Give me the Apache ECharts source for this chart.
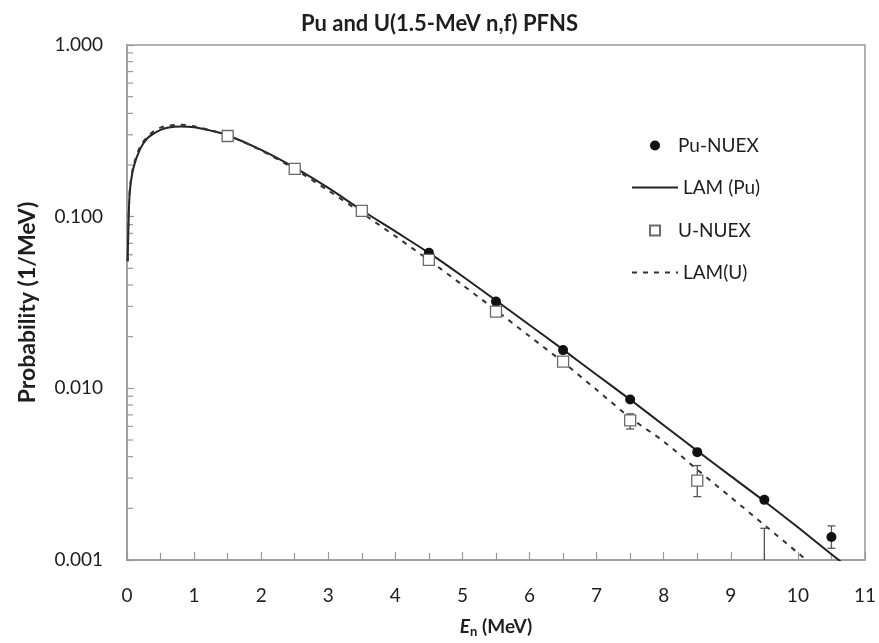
<!DOCTYPE html>
<html>
<head>
<meta charset="utf-8">
<script src="https://cdn.jsdelivr.net/npm/echarts@6/dist/echarts.min.js"></script>
<style>html,body{margin:0;padding:0;background:#fff;}#c{width:879px;height:643px;}</style>
</head>
<body>
<div id="c"></div>
<script>
// ---- data ----
const curveE = [0.01, 0.03, 0.05, 0.1, 0.2, 0.3, 0.4, 0.5, 0.6, 0.8, 1.0, 1.25, 1.5, 2.0, 2.5, 3.0, 3.5, 4.0, 4.5, 5.0, 5.5, 6.0, 6.5, 7.0, 7.5, 8.0, 8.5, 9.0, 9.5, 10.0, 10.5, 11.0];
const lamPu = [0.055, 0.115, 0.15, 0.195, 0.25, 0.285, 0.305, 0.32, 0.33, 0.335, 0.332, 0.317, 0.298, 0.245, 0.193, 0.147, 0.109, 0.082, 0.0615, 0.045, 0.0325, 0.0234, 0.0168, 0.012, 0.0086, 0.0061, 0.00432, 0.00308, 0.0022, 0.00155, 0.00108, 0.00076];
const lamU = [0.055, 0.118, 0.155, 0.2, 0.258, 0.29, 0.315, 0.33, 0.338, 0.343, 0.336, 0.318, 0.298, 0.243, 0.189, 0.142, 0.105, 0.077, 0.0558, 0.04, 0.0285, 0.0201, 0.0142, 0.0098, 0.00675, 0.0049, 0.00336, 0.00232, 0.0016, 0.0011, 0.00075, 0.00052];

const puE = [1.5, 2.5, 3.5, 4.5, 5.5, 6.5, 7.5, 8.5, 9.5, 10.5];
const puNuex = [0.295, 0.19, 0.109, 0.0617, 0.032, 0.0167, 0.0086, 0.00425, 0.00224, 0.00136];
const puErrLow = [null, null, null, null, null, null, null, null, null, 0.00117];
const puErrHigh = [null, null, null, null, null, null, null, null, null, 0.00158];

const uE = [1.5, 2.5, 3.5, 4.5, 5.5, 6.5, 7.5, 8.5, 9.5];
const uNuex = [0.295, 0.19, 0.108, 0.056, 0.028, 0.0143, 0.0065, 0.0029, 0.0009];
const uErrLow = [null, null, null, null, null, null, 0.0058, 0.00234, 0.0005];
const uErrHigh = [null, null, null, null, null, null, 0.0071, 0.00355, 0.00153];

const xTicks = [0, 1, 2, 3, 4, 5, 6, 7, 8, 9, 10, 11];
const yTickLabels = ['0.001', '0.010', '0.100', '1.000'];
const yMinorTicks = [0.002, 0.003, 0.004, 0.005, 0.006, 0.007, 0.008, 0.009,
                     0.02, 0.03, 0.04, 0.05, 0.06, 0.07, 0.08, 0.09,
                     0.2, 0.3, 0.4, 0.5, 0.6, 0.7, 0.8, 0.9];

const FONT = 'Lato';
const TXT = '#1e1e1e';
const AX = '#9a9a9a';

function pairs(xs, ys) { return xs.map((x, i) => [x, ys[i]]); }
function errData(xs, lo, hi) {
  const out = [];
  xs.forEach((x, i) => { if (lo[i] != null) out.push([x, lo[i], hi[i]]); });
  return out;
}
function errRender(params, api) {
  const cs = params.coordSys;
  const x = api.value(0), lo = api.value(1), hi = api.value(2);
  const pTop = api.coord([x, hi]);
  const pBot = api.coord([x, lo]);
  const yMin = cs.y, yMax = cs.y + cs.height;
  const topY = Math.max(yMin, Math.min(yMax, pTop[1]));
  const botY = Math.max(yMin, Math.min(yMax, pBot[1]));
  const st = { stroke: '#555', lineWidth: 1.3 };
  const children = [{ type: 'line', shape: { x1: pTop[0], y1: topY, x2: pTop[0], y2: botY }, style: st }];
  if (pTop[1] >= yMin && pTop[1] <= yMax) children.push({ type: 'line', shape: { x1: pTop[0] - 4, y1: topY, x2: pTop[0] + 4, y2: topY }, style: st });
  if (pBot[1] >= yMin && pBot[1] <= yMax) children.push({ type: 'line', shape: { x1: pBot[0] - 4, y1: botY, x2: pBot[0] + 4, y2: botY }, style: st });
  return { type: 'group', children };
}

const chart = echarts.init(document.getElementById('c'), null, { renderer: 'canvas' });
chart.setOption({
  animation: false,
  backgroundColor: '#fff',
  title: {
    text: 'Pu and U(1.5-MeV n,f) PFNS',
    left: 'center', top: 8,
    textStyle: { fontFamily: FONT, fontSize: 22, fontWeight: 'bold', color: TXT }
  },
  grid: { left: 127, right: 11, top: 45, bottom: 83, show: true, borderColor: AX, borderWidth: 1.5, backgroundColor: 'transparent' },
  legend: [
    {
      data: ['Pu-NUEX', 'U-NUEX'], orient: 'vertical', left: 644, top: 131,
      itemWidth: 10, itemHeight: 10, itemGap: 66,
      formatter: n => '{g|}' + n,
      textStyle: { fontFamily: FONT, fontSize: 19, color: TXT, rich: { g: { width: 13 } } },
      selectedMode: false
    },
    {
      data: ['LAM (Pu)', 'LAM(U)'], orient: 'vertical', left: 626, top: 173,
      itemWidth: 46, itemHeight: 10, itemGap: 66,
      itemStyle: { opacity: 0 },
      textStyle: { fontFamily: FONT, fontSize: 19, color: TXT },
      selectedMode: false
    }
  ],
  xAxis: {
    type: 'value', min: 0, max: 11, interval: 1,
    axisLine: { lineStyle: { color: AX, width: 1.5 } },
    axisTick: { inside: true, length: 8, lineStyle: { color: AX, width: 1.2 } },
    minorTick: { show: true, splitNumber: 2, length: 7, lineStyle: { color: AX, width: 1.2 } },
    splitLine: { show: false },
    axisLabel: { margin: 26, fontFamily: FONT, fontSize: 19, color: TXT,
      formatter: v => xTicks.indexOf(v) >= 0 ? String(v) : '' },
    name: '{e|E}{n|n} (MeV)', nameLocation: 'middle', nameGap: 56,
    nameTextStyle: { fontFamily: FONT, fontSize: 19, fontWeight: 'bold', color: TXT,
      rich: { e: { fontFamily: FONT, fontSize: 19, fontWeight: 'bold', fontStyle: 'italic', color: TXT },
              n: { fontFamily: FONT, fontSize: 13, fontWeight: 'bold', color: TXT, verticalAlign: 'bottom', padding: [9, 0, 0, 0] } } }
  },
  yAxis: {
    type: 'log', logBase: 10, min: 0.001, max: 1,
    axisLine: { lineStyle: { color: AX, width: 1.5 } },
    axisTick: { inside: true, length: 7, lineStyle: { color: AX, width: 1.2 } },
    splitLine: { show: false },
    axisLabel: { margin: 24, fontFamily: FONT, fontSize: 19, color: TXT,
      formatter: v => { const s = v.toFixed(3); return yTickLabels.indexOf(s) >= 0 ? s : ''; } },
    name: 'Probability (1/MeV)', nameLocation: 'middle', nameGap: 88,
    nameTextStyle: { fontFamily: FONT, fontSize: 23, fontWeight: 'bold', color: TXT }
  },
  series: [
    {
      type: 'custom', name: 'yminor', silent: true, z: 1,
      data: yMinorTicks.map(v => [0, v]),
      renderItem: (params, api) => {
        const p = api.coord([0, api.value(1)]);
        return { type: 'line', shape: { x1: p[0], y1: p[1], x2: p[0] + 6, y2: p[1] }, style: { stroke: AX, lineWidth: 1.2 } };
      }
    },
    {
      type: 'custom', name: 'puErr', silent: true, z: 3,
      data: errData(puE, puErrLow, puErrHigh), renderItem: errRender
    },
    {
      type: 'scatter', name: 'Pu-NUEX', z: 6,
      data: pairs(puE, puNuex), symbol: 'circle', symbolSize: 10,
      itemStyle: { color: '#111', opacity: 1 }
    },
    {
      type: 'line', name: 'LAM (Pu)', z: 4,
      data: pairs(curveE, lamPu), smooth: 0.3, showSymbol: false, symbol: 'none', clip: true,
      lineStyle: { color: '#222', width: 2 }, itemStyle: { color: '#222' }
    },
    {
      type: 'custom', name: 'uErr', silent: true, z: 7,
      data: errData(uE, uErrLow, uErrHigh), renderItem: errRender
    },
    {
      type: 'scatter', name: 'U-NUEX', z: 8,
      data: pairs(uE, uNuex), symbol: 'rect', symbolSize: 11, clip: true,
      itemStyle: { color: '#fff', borderColor: '#6a6a6a', borderWidth: 1.3, opacity: 1 }
    },
    {
      type: 'line', name: 'LAM(U)', z: 5,
      data: pairs(curveE, lamU), smooth: 0.3, showSymbol: false, symbol: 'none', clip: true,
      lineStyle: { color: '#333', width: 2, type: [5, 6] }, itemStyle: { color: '#333' }
    }
  ]
});
</script>
</body>
</html>
